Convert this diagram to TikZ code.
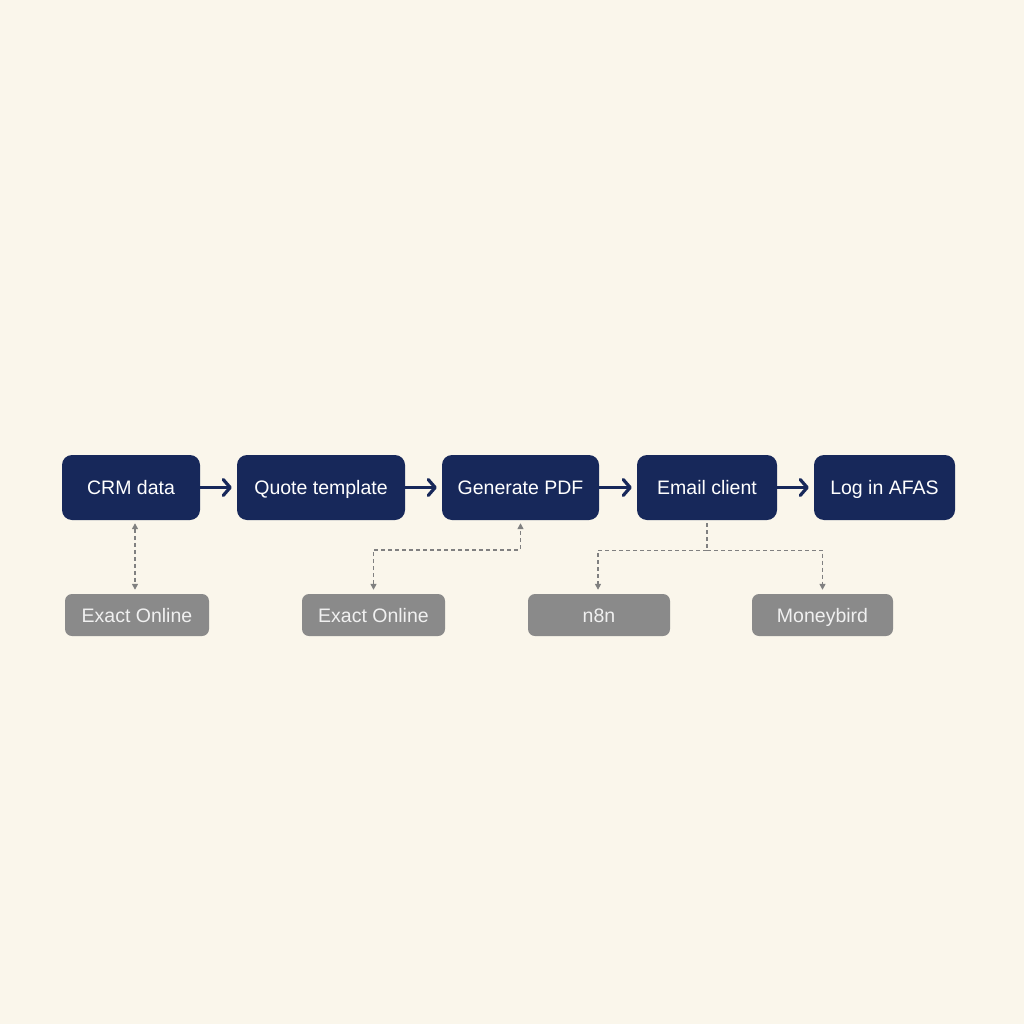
\documentclass[tikz,border=0pt]{standalone}
\usepackage{fontspec}
\setmainfont{Liberation Sans}
\usetikzlibrary{arrows.meta}
\definecolor{bg}{HTML}{FAF6EB}
\definecolor{navy}{HTML}{17285A}
\definecolor{greybox}{HTML}{8A8A8A}
\definecolor{dashgrey}{HTML}{808080}
\begin{document}
\begin{tikzpicture}[x=1pt,y=-1pt,
  mainbox/.style={draw=none,fill=navy,rounded corners=10pt,text=white,font=\fontsize{19.5}{22}\selectfont,minimum height=65pt,inner sep=0pt,text height=14pt,text depth=0pt,anchor=center},
  subbox/.style={draw=none,fill=greybox,rounded corners=7pt,text=white!94!black,font=\fontsize{19.5}{22}\selectfont,minimum height=42pt,inner sep=0pt,text height=14pt,text depth=0pt,anchor=center},
  flowarrow/.style={draw=navy,line width=3.2pt,-{Straight Barb[length=7pt,width=16pt,line width=3.2pt,round]},line cap=round},
  dashline/.style={draw=dashgrey,line width=1.4pt,dash pattern=on 4pt off 3pt},
  dtip/.tip={Triangle[length=6pt,width=6pt]}
]
\fill[bg] (0,0) rectangle (1024,1024);
\useasboundingbox (0,0) rectangle (1024,1024);

\node[mainbox,minimum width=138pt] (crm) at (131,487.5) {CRM data};
\node[mainbox,minimum width=168pt] (quote) at (321,487.5) {Quote template};
\node[mainbox,minimum width=157pt] (pdf) at (520.5,487.5) {Generate PDF};
\node[mainbox,minimum width=140pt] (email) at (707,487.5) {Email client};
\node[mainbox,minimum width=141pt] (afas) at (884.5,487.5) {Log in AFAS};

\node[subbox,minimum width=144pt] (ex1) at (137,615) {Exact Online};
\node[subbox,minimum width=143pt] (ex2) at (373.5,615) {Exact Online};
\node[subbox,minimum width=142pt] (n8n) at (599,615) {n8n};
\node[subbox,minimum width=141pt] (money) at (822.5,615) {Moneybird};

\draw[flowarrow,shorten >=5pt] (crm.east) -- (quote.west);
\draw[flowarrow,shorten >=5pt] (quote.east) -- (pdf.west);
\draw[flowarrow,shorten >=5pt] (pdf.east) -- (email.west);
\draw[flowarrow,shorten >=5pt] (email.east) -- (afas.west);

\draw[dashline,dtip-dtip,shorten <=3pt,shorten >=4pt] ([xshift=4pt]crm.south) -- ([xshift=-2pt]ex1.north);
\draw[dashline,dtip-dtip,shorten <=4pt,shorten >=3pt] (ex2.north) -- ++(0,-44) -| (pdf.south);
\coordinate (eb) at ([yshift=-30pt]email.south);
\draw[dashline,shorten <=3pt] (email.south) -- (eb);
\draw[dashline,-dtip,shorten >=4pt] (eb) -| ([xshift=-1pt]n8n.north);
\draw[dashline,-dtip,shorten >=4pt] (eb) -| (money.north);
\end{tikzpicture}
\end{document}
